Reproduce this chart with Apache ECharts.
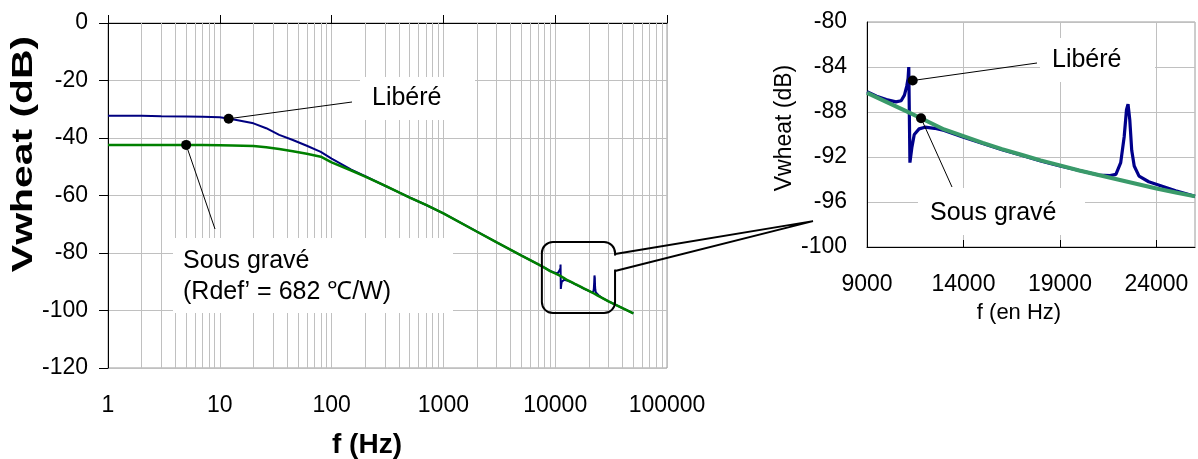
<!DOCTYPE html>
<html>
<head>
<meta charset="utf-8">
<script src="https://cdn.jsdelivr.net/npm/echarts@6/dist/echarts.min.js"></script>
<style>html,body{margin:0;padding:0;background:#fff}#c{width:1198px;height:459px}</style>
</head>
<body>
<div id="c"></div>
<script>
// ---------- data ----------
const freqLow  = [1, 2, 3, 5, 7, 10, 13, 20, 26, 34, 45, 60, 80, 100, 150, 200, 300, 409, 500, 700, 1000, 2000, 3000, 5000, 7000, 8000];
const blueLow  = [-32.3, -32.3, -32.4, -32.5, -32.6, -32.8, -33.5, -34.9, -36.6, -38.9, -40.7, -42.7, -44.8, -47.2, -51.0, -53.3, -56.6, -59.1, -60.7, -63.3, -66.2, -72.6, -76.3, -80.9, -83.9, -85.1];
const greenLow = [-42.4, -42.4, -42.4, -42.4, -42.4, -42.5, -42.6, -42.8, -43.2, -43.8, -44.6, -45.5, -46.5, -48.5, -51.3, -53.4, -56.6, -59.1, -60.7, -63.3, -66.2, -72.6, -76.3, -80.9, -83.9, -85.1];

const zoomFreqBlue = [9000, 9500, 10000, 10500, 10770, 10940, 11060, 11130, 11165, 11225, 11330, 11450, 11700, 12000, 12500, 13000, 14000, 15000, 16000, 17000, 18000, 19000, 20000, 21000, 21600, 21900, 22150, 22330, 22450, 22530, 22620, 22720, 22850, 23100, 23600, 24300, 25000, 26000];
const zoomBlue     = [-86.2, -86.6, -86.9, -87.1, -87.0, -86.5, -85.7, -85.0, -84.0, -92.5, -91.1, -90.0, -89.5, -89.35, -89.45, -89.65, -90.25, -90.8, -91.35, -91.85, -92.35, -92.8, -93.2, -93.6, -93.65, -93.55, -92.5, -90.2, -87.8, -87.3, -88.7, -91.4, -92.8, -93.7, -94.2, -94.6, -95.0, -95.5];

const zoomFreqGreen = [9000, 10000, 11000, 11800, 13000, 14000, 15000, 16000, 17000, 18000, 19000, 20000, 21000, 22000, 23000, 24000, 25000, 26000];
const zoomGreen     = [-86.3, -87.1, -87.9, -88.55, -89.55, -90.15, -90.75, -91.3, -91.8, -92.3, -92.75, -93.2, -93.6, -94.0, -94.4, -94.8, -95.15, -95.5];

const tailFreq  = [30000, 40000, 50000];
const tailValue = [-96.8, -99.2, -101.0];

const insetXLabels = [9000, 14000, 19000, 24000];

const leftDots  = [[12, -33.3], [5, -42.4]];
const insetDots = [[11370, -85.2], [11800, -88.55]];

const txtLibere = 'Libéré';
const txtSous = 'Sous gravé';
const txtRdef = '(Rdef’ = 682 ℃/W)';
const txtYTitle = 'Vwheat (dB)';
const txtXLeft = 'f (Hz)';
const txtXInset = 'f (en Hz)';

// ---------- build ----------
const pairs = (fs, vs) => fs.map((f, i) => [f, vs[i]]);
const leftBlue  = [].concat(pairs(freqLow, blueLow),  pairs(zoomFreqBlue, zoomBlue),  pairs(tailFreq, tailValue));
const leftGreen = [].concat(pairs(freqLow, greenLow), pairs(zoomFreqGreen, zoomGreen), pairs(tailFreq, tailValue));
const minorGrid = [];
[1, 10, 100, 1000, 10000].forEach(d => { for (let m = 2; m <= 9; m++) minorGrid.push({ xAxis: m * d }); });

const FONT = '"Liberation Sans", Arial, sans-serif';
const GRID_C = '#c0c0c0';
const lbl = { color: '#000', fontSize: 23, fontFamily: FONT };

const chart = echarts.init(document.getElementById('c'), null, { renderer: 'canvas' });
chart.setOption({
  animation: false,
  backgroundColor: '#fff',
  grid: [
    { left: 108, top: 23, width: 559, height: 345, show: true, borderColor: '#9a9a9a', borderWidth: 1 },
    { left: 867, top: 22, width: 330, height: 225, show: true, borderColor: '#9a9a9a', borderWidth: 1 }
  ],
  xAxis: [
    { type: 'log', gridIndex: 0, logBase: 10, min: 1, max: 100000,
      axisLine: { show: true, lineStyle: { color: '#000', width: 1 } },
      axisTick: { show: true, inside: true, length: 8, lineStyle: { color: '#000' } },
      axisLabel: Object.assign({ margin: 26, formatter: v => String(Math.round(v)) }, lbl),
      splitLine: { show: true, lineStyle: { color: GRID_C, width: 1 } },
      minorTick: { show: false }, minorSplitLine: { show: false } },
    { type: 'value', gridIndex: 1, min: 9000, max: 26000, interval: 1000,
      axisLine: { show: true, lineStyle: { color: '#000', width: 1 } },
      axisTick: { show: true, inside: true, length: 7, customValues: insetXLabels, lineStyle: { color: '#000' } },
      axisLabel: Object.assign({ margin: 26, formatter: v => insetXLabels.indexOf(v) >= 0 ? String(v) : '' }, lbl),
      splitLine: { show: true, lineStyle: { color: GRID_C, width: 1 } } }
  ],
  yAxis: [
    { type: 'value', gridIndex: 0, min: -120, max: 0, interval: 20,
      axisLine: { show: true, lineStyle: { color: '#000', width: 1 } },
      axisTick: { show: true, inside: false, length: 9, lineStyle: { color: '#000' } },
      axisLabel: Object.assign({ margin: 20 }, lbl),
      splitLine: { show: true, lineStyle: { color: GRID_C, width: 1 } } },
    { type: 'value', gridIndex: 1, min: -100, max: -80, interval: 4,
      axisLine: { show: true, lineStyle: { color: '#000', width: 1 } },
      axisTick: { show: false },
      axisLabel: Object.assign({ margin: 20 }, lbl),
      splitLine: { show: true, lineStyle: { color: GRID_C, width: 1 } } }
  ],
  series: [
    { type: 'line', xAxisIndex: 0, yAxisIndex: 0, data: [], silent: true, z: 1,
      markLine: { silent: true, symbol: ['none', 'none'], z: 1, label: { show: false },
        lineStyle: { color: GRID_C, width: 1, type: 'solid' }, emphasis: { disabled: true }, data: minorGrid } },
    { type: 'line', xAxisIndex: 0, yAxisIndex: 0, data: leftBlue, symbol: 'none', z: 3,
      lineStyle: { color: '#000080', width: 2 } },
    { type: 'line', xAxisIndex: 0, yAxisIndex: 0, data: leftGreen, symbol: 'none', z: 4,
      lineStyle: { color: '#008000', width: 2.5 } },
    { type: 'line', xAxisIndex: 1, yAxisIndex: 1, data: pairs(zoomFreqBlue, zoomBlue), symbol: 'none', z: 3,
      lineStyle: { color: '#00008b', width: 3.2 } },
    { type: 'line', xAxisIndex: 1, yAxisIndex: 1, data: pairs(zoomFreqGreen, zoomGreen), symbol: 'none', z: 4,
      lineStyle: { color: '#3a9a6a', width: 4 } },
    { type: 'scatter', xAxisIndex: 0, yAxisIndex: 0, data: leftDots, symbolSize: 10, z: 10,
      itemStyle: { color: '#000', opacity: 1 } },
    { type: 'scatter', xAxisIndex: 1, yAxisIndex: 1, data: insetDots, symbolSize: 10, z: 10,
      itemStyle: { color: '#000', opacity: 1 } }
  ]
});

// ---------- annotations ----------
const px = (g, pt) => chart.convertToPixel({ gridIndex: g }, pt);
const G = [];
const box = (x, y, w, h) => G.push({ type: 'rect', z: 50, shape: { x, y, width: w, height: h }, style: { fill: '#fff', stroke: null } });
const mkStyle = (t, size, weight, align) => ({ text: t, fill: '#000', fontSize: size, fontWeight: weight, fontFamily: FONT,
  align: align, verticalAlign: 'middle', textAlign: align, textVerticalAlign: 'middle' });
const text = (t, x, y, size, weight, align, extra) => G.push(Object.assign({ type: 'text', z: 60, x, y,
  style: mkStyle(t, size, weight || 'normal', align || 'left') }, extra || {}));
const line = (a, b, w) => G.push({ type: 'line', z: 55, shape: { x1: a[0], y1: a[1], x2: b[0], y2: b[1] }, style: { stroke: '#000', lineWidth: w || 1 } });

// white label boxes
box(360, 77, 115, 43);
box(173, 238, 280, 75);
box(1040, 38, 115, 44);
box(918, 188, 167, 47);
// label texts
text(txtLibere, 372, 98, 25);
text(txtSous, 183, 261, 25);
text(txtRdef, 183, 292, 25);
text(txtLibere, 1052, 60, 25);
text(txtSous, 930, 213, 25);
// callout lines from dots
line(px(0, leftDots[0]), [352, 102]);
line(px(0, leftDots[1]), [215, 229]);
line(px(1, insetDots[0]), [1037, 63]);
line(px(1, insetDots[1]), [952, 187]);
// zoom callout box with wedge
const c1 = px(0, [7600, -76.2]), c2 = px(0, [34300, -100.9]);
const L = c1[0], T = c1[1], R = c2[0], B = c2[1];
const tip = px(1, [6200, -97.7]);
G.push({ type: 'rect', z: 56, shape: { x: L, y: T, width: R - L, height: B - T, r: 11 }, style: { fill: 'none', stroke: '#000', lineWidth: 2 } });
G.push({ type: 'line', z: 57, shape: { x1: R, y1: T + 13.5, x2: R, y2: T + 27.5 }, style: { stroke: '#fff', lineWidth: 4 } });
G.push({ type: 'polyline', z: 58, shape: { points: [[R, T + 12], tip, [R, T + 29]] }, style: { fill: 'none', stroke: '#000', lineWidth: 2 } });
// axis titles
text(txtYTitle, 24, 154, 29, 'bold', 'center', { rotation: Math.PI / 2, scaleX: 1.41 });
text(txtXLeft, 367, 445, 28, 'bold', 'center');
text(txtXInset, 1019, 313, 22, 'normal', 'center');
text(txtYTitle, 785, 128, 23, 'normal', 'center', { rotation: Math.PI / 2 });

chart.setOption({ graphic: { elements: G } });
</script>
</body>
</html>
